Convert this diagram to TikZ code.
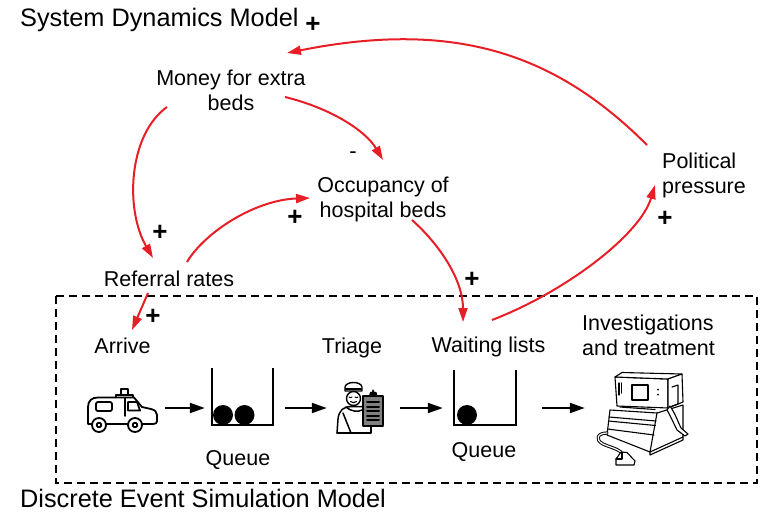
\documentclass[tikz,border=0pt]{standalone}
\usepackage{fontspec}
\setmainfont{Liberation Sans}
\usetikzlibrary{arrows.meta}
\definecolor{linkred}{RGB}{232,30,38}
\begin{document}
\begin{tikzpicture}[x=1pt,y=-1pt,
  lbl/.style={font=\fontsize{21.5}{25}\selectfont, inner sep=0pt, align=center, anchor=north},
  lbll/.style={font=\fontsize{21.5}{25}\selectfont, inner sep=0pt, align=left, anchor=north west},
  ttl/.style={font=\fontsize{25.3}{30}\selectfont, inner sep=0pt, anchor=base west},
  sgn/.style={font=\fontsize{26}{26}\selectfont\bfseries, inner sep=0pt},
  neg/.style={font=\fontsize{22}{22}\selectfont, inner sep=0pt},
  link/.style={draw=linkred, line width=2pt, -{Triangle[length=14pt,width=9pt]}},
  flow/.style={draw=black, line width=2pt, -{Triangle[length=15pt,width=10pt]}},
  iconbox/.style={minimum height=50pt, inner sep=0pt, draw=none},
  queuewall/.style={line width=2pt, line join=miter},
  iconline/.style={line width=1.8pt, line join=round, line cap=round},
  fineline/.style={line width=1.1pt, line join=round, line cap=round},
  dashbox/.style={line width=2pt, dash pattern=on 8pt off 5pt}
]
\useasboundingbox (0,0) rectangle (764,512);

% ---------- titles ----------
\node[ttl] (sdtitle) at (20,26) {System Dynamics Model};
\node[ttl] (destitle) at (20,507.5) {Discrete Event Simulation Model};

% ---------- simulation boundary ----------
\draw[dashbox] (56,296) rectangle (757,483);

% ---------- system dynamics variables ----------
\node[lbl] (money) at (231,70) {Money for extra\\beds};
\node[lbl] (occ) at (383,177) {Occupancy of\\hospital beds};
\node[lbll] (pol) at (662,153) {Political\\pressure};
\node[lbl] (ref) at (169,271) {Referral rates};

% ---------- process steps ----------
\node[lbl] (arrive) at (122.5,338) {Arrive};
\node[lbl] (triage) at (352,338) {Triage};
\node[lbl] (wait) at (488.5,337) {Waiting lists};
\node[lbll] (invest) at (582,315) {Investigations\\and treatment};
\node[lbl] (q1lbl) at (238,450) {Queue};
\node[lbl] (q2lbl) at (484,442) {Queue};

% ---------- polarity signs ----------
\node[sgn] (s1) at (313,25) {+};
\node[sgn] (s2) at (160,233) {+};
\node[sgn] (s3) at (295,218) {+};
\node[sgn] (s4) at (153,317) {+};
\node[sgn] (s5) at (472,280) {+};
\node[sgn] (s6) at (665,219) {+};
\node[neg] (s7) at (353,155) {-};

% ---------- causal link end points ----------
\coordinate (pol-out) at (647,145);
\coordinate (money-in) at (287,53);
\coordinate (money-out1) at (285,97);
\coordinate (occ-in1) at (383,160);
\coordinate (money-out2) at (167,107);
\coordinate (ref-in) at (153,258);
\coordinate (ref-out1) at (187,262);
\coordinate (occ-in2) at (310,198);
\coordinate (ref-out2) at (148,293);
\coordinate (arrive-in) at (132,330);
\coordinate (occ-out) at (412,220);
\coordinate (wait-in) at (463,322);
\coordinate (wait-out) at (492,320);
\coordinate (pol-in) at (655,185);

% ---------- causal links ----------
\draw[link] (pol-out) .. controls (557,55) and (457,19) .. (money-in);
\draw[link] (money-out1) .. controls (330,108) and (365,130) .. (occ-in1);
\draw[link] (money-out2) .. controls (128,135) and (125,210) .. (ref-in);
\draw[link] (ref-out1) .. controls (205,232) and (255,200) .. (occ-in2);
\draw[link] (ref-out2) -- (arrive-in);
\draw[link] (occ-out) .. controls (440,245) and (463,280) .. (wait-in);
\draw[link] (wait-out) .. controls (565,292) and (640,235) .. (pol-in);

% ---------- icon slots along the flow ----------
\node[iconbox, minimum width=77pt] (amb) at (126.5,408) {};
\node[iconbox, minimum width=80pt] (q1) at (245,408) {};
\node[iconbox, minimum width=73pt] (nurse) at (363.5,408) {};
\node[iconbox, minimum width=99pt] (q2) at (492.5,408) {};
\node[iconbox, minimum width=105pt] (comp) at (637.5,408) {};

\draw[flow] (amb.east) -- (q1.west);
\draw[flow] (q1.east) -- (nurse.west);
\draw[flow] (nurse.east) -- (q2.west);
\draw[flow] (q2.east) -- (comp.west);

% ---------- queues ----------
\draw[queuewall] (212,368) -- (212,425) -- (273,425) -- (273,368);
\fill (223,415) circle[radius=10pt];
\fill (244.5,415) circle[radius=10pt];
\draw[queuewall] (454,370) -- (454,425) -- (516,425) -- (516,370);
\fill (467,415) circle[radius=10pt];

% ---------- ambulance ----------
\begin{scope}[iconline]
  \draw (121,389) rectangle (128,395);
  \draw (116,395) rectangle (133,397.5);
  \draw (88,424) -- (88,407) .. controls (88,400.5) and (92,397.5) .. (98,397.5)
        -- (134,397.5) -- (142,407) -- (151,409)
        .. controls (155,410) and (157,412) .. (157,415) -- (157,421)
        .. controls (157,423) and (156,424) .. (153,424) -- cycle;
  \draw[rounded corners=2pt] (96,402) rectangle (112,411);
  \draw (128,402) -- (137,402) -- (140,410.5) -- (128,410.5) -- cycle;
  \draw (125,398) -- (125,416);
  \draw[fill=white] (99,425) circle[radius=7pt];
  \draw (99,425) circle[radius=2.3pt];
  \draw[fill=white] (135,425) circle[radius=7pt];
  \draw (135,425) circle[radius=2.3pt];
\end{scope}

% ---------- triage nurse ----------
\begin{scope}[fineline]
  \draw[line width=1.4pt, fill=white] (345,391) -- (345,387)
        .. controls (346,381) and (361,381) .. (362,387) -- (362,391) -- cycle;
  \draw[line width=1.4pt] (345.5,389) -- (361.5,389);
  \draw[line width=1.4pt, fill=white] (353.5,398.5) circle[radius=7pt];
  \draw (349,397) .. controls (350,398) and (351,398) .. (352,397);
  \draw (355,397) .. controls (356,398) and (357,398) .. (358,397);
  \draw (350.5,401.5) .. controls (352.5,403) and (354.5,403) .. (356.5,401.5);
  \draw[line width=1.5pt] (337,433) -- (338,419) .. controls (339,410) and (344,406.5) .. (351,406.5) -- (364,406.5);
  \draw[line width=1.5pt] (337,433) -- (371,433) -- (371,426);
  \draw[line width=1.5pt] (343,413) -- (351,433);
  \draw[line width=1.5pt] (346,407) .. controls (352,412) and (358,412) .. (362,410);
  \draw[line width=1.5pt, fill=black!50] (363,396) rectangle (383,426);
  \draw[fill=black] (369.5,396) -- (370.5,392.5) -- (372.5,392.5) -- (373,390)
        -- (374,392.5) -- (376,392.5) -- (377,396) -- cycle;
  \foreach \yy in {402,406.5,411,415.5,420}
    \draw[line width=2pt] (367,\yy) -- (379,\yy);
\end{scope}

% ---------- examination equipment ----------
\begin{scope}[fineline]
  % monitor housing
  \draw[fill=white] (615,377) -- (668,379) -- (668,408) -- (617,406) -- cycle;
  \draw[fill=white] (615,377) -- (622,372.5) -- (682,374) -- (668,379) -- cycle;
  \draw[fill=white] (668,379) -- (682,374) -- (683,402) -- (668,408) -- cycle;
  \draw (632,385) rectangle (648,400);
  \draw (619,383) -- (619,395);
  \draw (621.5,383) -- (621.5,393);
  \fill (658,389.5) circle[radius=1pt];
  \fill (658,394.5) circle[radius=1pt];
  \draw (672,387) -- (678,385) -- (678,404) -- (672,406);
  % base unit
  \draw[fill=white] (610,410) -- (657,413) -- (683,405) -- (683,437)
        -- (650,452) -- (607,435) -- cycle;
  \draw (657,413) -- (650,452);
  \draw (609,417) -- (656,421);
  \draw (608.5,421) -- (655.5,425.5);
  \draw (607.5,429) -- (654,435);
  \draw (620,407) -- (655,409.5);
  \draw (650,452) -- (650,455) -- (683,440) -- (683,437);
  % right cable
  \draw[fill=white] (670,406) .. controls (676,415) and (678,422) .. (681,428)
        -- (688,434) -- (685,436) -- (677,430)
        .. controls (674,424) and (671,417) .. (667,410) -- cycle;
  % left cable and pendant control
  \draw[line width=3.2pt] (607,433) .. controls (597,433) and (595,440) .. (603,444)
        .. controls (609,447) and (616,448) .. (621,452);
  \draw[line width=1.2pt, white] (607,433) .. controls (597,433) and (595,440) .. (603,444)
        .. controls (609,447) and (616,448) .. (621,452);
  \draw[fill=white] (616,459) -- (621,452) -- (627,452.5) -- (635,461)
        -- (634,465) -- (616,465) -- cycle;
  \draw (622,452) -- (622,459) -- (616,459);
\end{scope}
\end{tikzpicture}
\end{document}
